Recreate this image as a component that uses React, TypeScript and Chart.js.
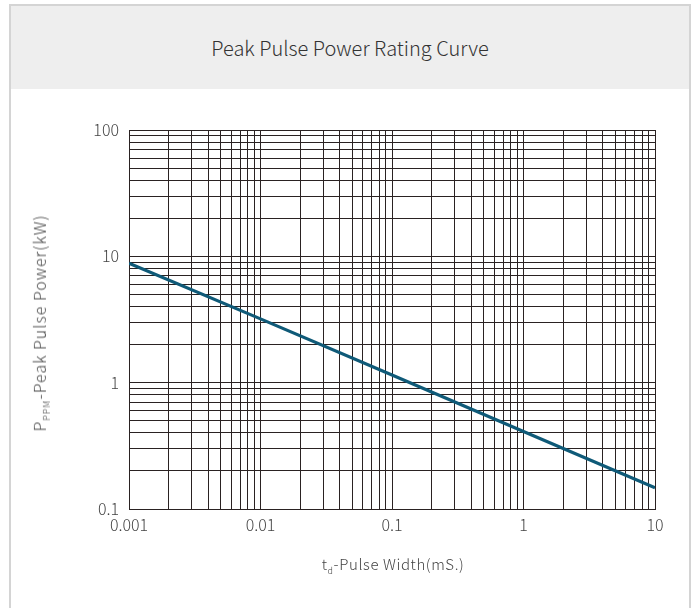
import React, { useEffect, useRef } from "react";
import { Chart, registerables } from "chart.js";

Chart.register(...registerables);

const pulseWidths = [0.001, 0.01, 0.1, 1, 10];
const peakPower = [8.8, 3.2, 1.15, 0.41, 0.147];
const xMajorTicks = [0.001, 0.01, 0.1, 1, 10];
const yMajorTicks = [0.1, 1, 10, 100];
const minorMantissas = [2, 3, 4, 5, 6, 7, 8, 9];

const FONT = "'Noto Sans CJK SC', 'Noto Sans', sans-serif";
const GRID = "#2a2222";
const TEXT = "#444";

function buildTicks(majors: number[]) {
  const out: { value: number; major: boolean }[] = [];
  majors.forEach((m, i) => {
    out.push({ value: m, major: true });
    if (i < majors.length - 1) {
      minorMantissas.forEach((k) => {
        out.push({ value: parseFloat((k * m).toPrecision(6)), major: false });
      });
    }
  });
  return out;
}

export default function App() {
  const ref = useRef<HTMLCanvasElement | null>(null);
  useEffect(() => {
    if (!ref.current) return;
    const chart = new Chart(ref.current, {
      type: "line",
      data: {
        datasets: [
          {
            data: pulseWidths.map((x, i) => ({ x, y: peakPower[i] })),
            borderColor: "#0f5a78",
            borderWidth: 3.2,
            pointRadius: 0,
            fill: false,
            tension: 0,
          },
        ],
      },
      options: {
        animation: false,
        responsive: false,
        devicePixelRatio: 1,
        layout: { padding: { left: 0, right: 40, top: 130, bottom: 0 } },
        plugins: { legend: { display: false }, tooltip: { enabled: false }, title: { display: false } },
        scales: {
          x: {
            type: "logarithmic",
            min: 0.001,
            max: 10,
            afterBuildTicks: (scale: any) => {
              scale.ticks = buildTicks(xMajorTicks);
            },
            afterFit: (scale: any) => {
              scale.height = 99;
            },
            grid: { color: GRID, lineWidth: 1, drawTicks: false },
            border: { display: true, color: GRID, width: 1 },
            ticks: {
              autoSkip: false,
              maxRotation: 0,
              padding: 6,
              color: TEXT,
              font: { family: FONT, size: 16, weight: "300" as any },
              callback: (v: any, i: number, ticks: any[]) => (ticks[i].major ? String(ticks[i].value) : ""),
            },
          },
          y: {
            type: "logarithmic",
            min: 0.1,
            max: 100,
            afterBuildTicks: (scale: any) => {
              scale.ticks = buildTicks(yMajorTicks);
            },
            afterFit: (scale: any) => {
              scale.width = 129;
            },
            grid: { color: GRID, lineWidth: 1, drawTicks: false },
            border: { display: true, color: GRID, width: 1 },
            ticks: {
              autoSkip: false,
              padding: 10,
              color: TEXT,
              font: { family: FONT, size: 16, weight: "300" as any },
              callback: (v: any, i: number, ticks: any[]) => (ticks[i].major ? String(ticks[i].value) : ""),
            },
          },
        },
      },
    });
    return () => chart.destroy();
  }, []);

  return (
    <div style={{ position: "absolute", left: 0, top: 0, width: 695, height: 608, overflow: "hidden", fontFamily: FONT }}>
      <div
        style={{
          position: "absolute",
          left: 9,
          top: 4,
          width: 682,
          height: 640,
          border: "2px solid #d4d4d4",
          boxSizing: "border-box",
          background: "#fff",
        }}
      />
      <div
        style={{
          position: "absolute",
          left: 11,
          top: 6,
          width: 678,
          height: 83,
          background: "#eeeeee",
          display: "flex",
          alignItems: "center",
          justifyContent: "center",
          fontSize: 20,
          fontWeight: 300,
          color: "#333",
        }}
      >
        Peak Pulse Power Rating Curve
      </div>
      <canvas ref={ref} width={695} height={608} style={{ position: "absolute", left: 0, top: 0, width: 695, height: 608 }} />
      <div
        style={{
          position: "absolute",
          left: 393,
          top: 565,
          transform: "translate(-50%, -50%)",
          whiteSpace: "nowrap",
          fontSize: 15,
          letterSpacing: 0.6,
          fontWeight: 300,
          color: TEXT,
        }}
      >
        t<sub style={{ fontSize: 9 }}>d</sub>-Pulse Width(mS.)
      </div>
      <div
        style={{
          position: "absolute",
          left: 40,
          top: 323,
          transform: "translate(-50%, -50%) rotate(-90deg)",
          whiteSpace: "nowrap",
          fontSize: 16,
          letterSpacing: 1,
          fontWeight: 300,
          color: TEXT,
        }}
      >
        P<sub style={{ fontSize: 9 }}>PPM</sub>-Peak Pulse Power(kW)
      </div>
    </div>
  );
}
